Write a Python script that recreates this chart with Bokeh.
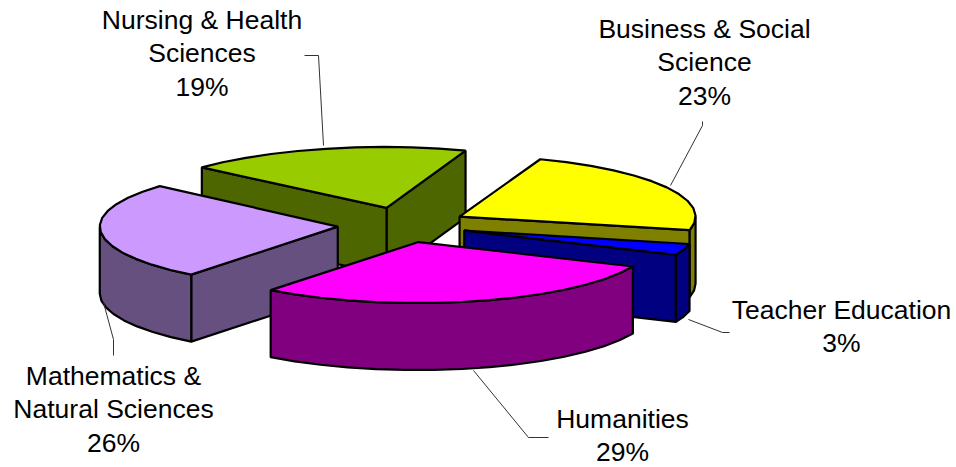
import math
from bokeh.plotting import figure
from bokeh.models import Range1d
from bokeh.core.properties import value
from bokeh.embed import file_html
from bokeh.resources import INLINE

# --- data, in drawing order round the pie (counter-clockwise from Humanities) ---
categories = ["Humanities", "Teacher Education", "Business & Social Science",
              "Nursing & Health Sciences", "Mathematics & Natural Sciences"]
shares = [29, 3, 23, 19, 26]
label_lines = [["Humanities"], ["Teacher Education"], ["Business & Social", "Science"],
               ["Nursing & Health", "Sciences"], ["Mathematics &", "Natural Sciences"]]

# --- styling and layout ---
top_colors = ["#FF00FF", "#0000FF", "#FFFF00", "#99CC00", "#CC99FF"]
side_colors = ["#800080", "#000080", "#808000", "#4D6600", "#665080"]
paint_order = [3, 2, 1, 4, 0]          # back to front
START_DEG = 232.0
CX, CY, RY, DEPTH = 402.0, 224.5, 61.0, 67.0
RX_RIGHT = [234, 231, 236, 231, 238]   # the drawing's perspective: each slice's half-width
RX_LEFT = [240, 238, 238, 247, 238]
EXPLODE_X, EXPLODE_Y = 65.0, 17.6
FONT = "Liberation Sans"
FONT_PX = "26.5px"
LINE_H = 33.6
label_centers = [(622, 418), (841, 309), (704, 28), (201.5, 19), (113, 375)]
leaders = [
    ([473, 528, 548], [370, 437, 437]),
    ([688, 722, 729], [319, 332, 332]),
    ([670, 702, 702], [185, 125, 121]),
    ([323, 318, 304], [145, 55, 55]),
    ([103, 113, 113], [302, 339, 355]),
]

W, H = 956, 467
p = figure(width=W, height=H, x_range=Range1d(0, W), y_range=Range1d(H, 0),
           output_backend="svg", toolbar_location=None, min_border=0)
p.axis.visible = False
p.grid.visible = False
p.outline_line_color = None
p.background_fill_color = "white"
p.border_fill_color = "white"

total = sum(shares)
bounds = [START_DEG]
for s in shares:
    bounds.append(bounds[-1] + 360.0 * s / total)


def rim(i, ax, ay, a0, a1):
    n = max(2, int(abs(a1 - a0) / 7) + 1)
    pts = []
    for k in range(n + 1):
        t = math.radians(a0 + (a1 - a0) * k / n)
        c = math.cos(t)
        rx = RX_RIGHT[i] if c > 0 else RX_LEFT[i]
        pts.append((ax + rx * c, ay - RY * math.sin(t)))
    return pts


def extrude(pts):
    xs = [q[0] for q in pts] + [q[0] for q in reversed(pts)]
    ys = [q[1] for q in pts] + [q[1] + DEPTH for q in reversed(pts)]
    return xs, ys


for i in paint_order:
    a0, a1 = bounds[i], bounds[i + 1]
    mid = math.radians((a0 + a1) / 2)
    ax = CX + EXPLODE_X * math.cos(mid)
    ay = CY - EXPLODE_Y * math.sin(mid)
    arc = rim(i, ax, ay, a0, a1)
    apex = (ax, ay)
    faces = []
    # flat cut faces: visible when the outward normal points down the screen
    for end, other in ((arc[0], arc[-1]), (arc[-1], arc[0])):
        ex, ey = end[0] - apex[0], end[1] - apex[1]
        nx, ny = -ey, ex
        ox, oy = other[0] - apex[0], other[1] - apex[1]
        if nx * ox + ny * oy > 0:
            nx, ny = -nx, -ny
        if ny > 0:
            faces.append([apex, end])
    # curved outer face: only the part on the near half of the ellipse
    near = []
    for a in range(int(a0 * 10), int(a1 * 10) + 1):
        if math.sin(math.radians(a / 10)) < 0:
            near.append(a / 10)
    if near:
        faces.append(rim(i, ax, ay, near[0], near[-1]))
    for f in faces:
        xs, ys = extrude(f)
        p.patch(xs, ys, fill_color=side_colors[i], line_color="black", line_width=2.2)
    p.patch([apex[0]] + [q[0] for q in arc], [apex[1]] + [q[1] for q in arc],
            fill_color=top_colors[i], line_color="black", line_width=2.2)

for (lx, ly) in leaders:
    p.line(lx, ly, line_color="#333333", line_width=1)

for i, lines in enumerate(label_lines):
    cx, cy = label_centers[i]
    rows = lines + [f"{shares[i]}%"]
    for j, row in enumerate(rows):
        p.text([cx], [cy + j * LINE_H], text=[row], text_font=value(FONT),
               text_font_size=FONT_PX, text_align="center", text_baseline="middle",
               text_color="black")

open("out.html", "w").write(file_html(p, INLINE))
